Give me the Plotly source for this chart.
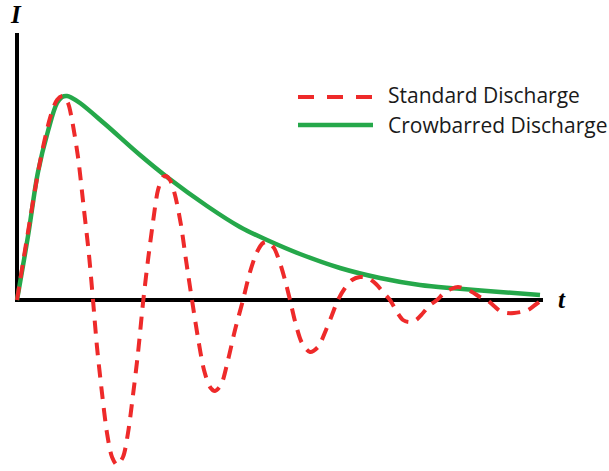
import plotly.graph_objects as go

# Standard (oscillating) discharge current, t along the time axis, I current
std_t = [0, 11, 23, 33, 40, 46, 51, 55, 61, 67, 72, 76, 80, 85, 90, 95, 100, 106, 111, 116,
         121, 126, 131, 136, 141, 146, 149, 153, 158, 164, 169, 175, 181, 187, 193, 198, 204,
         211, 218, 226, 233, 240, 246, 251, 257, 263, 268, 273, 279, 285, 293, 301, 309, 315,
         321, 328, 335, 343, 351, 359, 366, 373, 380, 386, 392, 399, 406, 413, 420, 427, 434,
         441, 448, 455, 463, 470, 477, 483, 490, 497, 504, 511, 518, 525]
std_I = [0, 68, 138, 182, 200, 204, 197, 180, 143, 90, 45, 0, -47, -93, -133, -157, -165, -157,
         -133, -95, -53, -3, 40, 78, 110, 123, 124, 120, 105, 75, 40, 0, -38, -70, -87, -91, -85,
         -60, -30, 0, 28, 48, 57, 58, 52, 37, 20, 0, -25, -43, -52, -47, -30, -15, 0, 12, 20, 23,
         22, 16, 8, 0, -12, -20, -22, -20, -13, -5, 0, 7, 11, 13, 11, 8, 3, 0, -6, -11, -13, -13,
         -12, -10, -5, 0]

# Crowbarred discharge: same rise, then a smooth exponential-like decay
crow_t = [0, 11, 21, 31, 40, 45, 50, 55, 63, 88, 123, 150, 190, 223, 250, 283, 323, 363, 403,
          440, 483, 523]
crow_I = [0, 64, 128, 169, 197, 203, 204, 202, 197, 176, 145, 123, 94, 73, 60, 46, 32, 22, 15,
          11.5, 8, 5]

legend_names = ["Standard Discharge", "Crowbarred Discharge"]
red = "#EE2A2A"
green = "#25A84A"

fig = go.Figure()
fig.add_trace(go.Scatter(x=crow_t, y=crow_I, mode="lines", name=legend_names[1],
                         line=dict(color=green, width=4.5, shape="spline", smoothing=1),
                         hoverinfo="skip"))
fig.add_trace(go.Scatter(x=std_t, y=std_I, mode="lines", name=legend_names[0],
                         line=dict(color=red, width=4, dash="13px,9px", shape="spline",
                                   smoothing=0.8),
                         hoverinfo="skip"))

# hand-drawn style axes
fig.add_shape(type="line", x0=0, x1=0, y0=-2, y1=267, layer="below",
              line=dict(color="black", width=4))
fig.add_shape(type="line", x0=-2, x1=526, y0=0, y1=0, layer="below",
              line=dict(color="black", width=4))

# legend drawn by hand
fig.add_shape(type="line", x0=281, x1=356, y0=203, y1=203,
              line=dict(color=red, width=4, dash="16px,13px"))
fig.add_shape(type="line", x0=281, x1=356, y0=175, y1=175,
              line=dict(color=green, width=4.5))
legend_font = dict(family="Open Sans", size=21, color="#1a1a1a")
fig.add_annotation(x=369, y=205, text=legend_names[0], showarrow=False,
                   xanchor="left", yanchor="middle", font=legend_font)
fig.add_annotation(x=369, y=175, text=legend_names[1], showarrow=False,
                   xanchor="left", yanchor="middle", font=legend_font)

axis_font = dict(family="Liberation Serif", size=25, color="black")
fig.add_annotation(x=-1, y=286, text="<b><i>I</i></b>", showarrow=False,
                   xanchor="center", yanchor="middle", font=axis_font)
fig.add_annotation(x=545, y=1, text="<b><i>t</i></b>", showarrow=False,
                   xanchor="center", yanchor="middle", font=axis_font)

fig.update_layout(
    width=609, height=471,
    margin=dict(l=0, r=0, t=0, b=0),
    paper_bgcolor="white", plot_bgcolor="white",
    showlegend=False,
    xaxis=dict(range=[-17, 592], visible=False, fixedrange=True),
    yaxis=dict(range=[-171, 300], visible=False, fixedrange=True),
)

fig.write_html("out.html")
